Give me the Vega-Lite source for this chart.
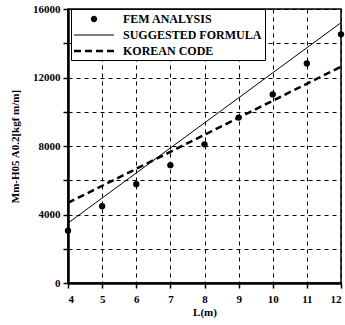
{
  "$schema": "https://vega.github.io/schema/vega-lite/v6.json",
  "width": 273,
  "height": 274,
  "autosize": "none",
  "padding": {"left": 68, "top": 9, "right": 4, "bottom": 42},
  "background": "white",
  "config": {
    "font": "Liberation Serif",
    "view": {"stroke": "black", "strokeWidth": 1.5},
    "axis": {
      "labelFont": "Liberation Serif",
      "labelFontWeight": "bold",
      "labelFontSize": 11,
      "labelColor": "black",
      "titleFont": "Liberation Serif",
      "titleFontWeight": "bold",
      "titleFontSize": 11,
      "titleColor": "black",
      "domainColor": "black",
      "domainWidth": 2.5,
      "tickColor": "black",
      "tickWidth": 1.5,
      "tickSize": 5,
      "gridColor": "black",
      "gridDash": [4, 4],
      "gridWidth": 1,
      "gridOpacity": 1
    }
  },
  "data": {
    "values": [
      {"L": 4, "M": 3050, "series": "FEM ANALYSIS"},
      {"L": 5, "M": 4480, "series": "FEM ANALYSIS"},
      {"L": 6, "M": 5770, "series": "FEM ANALYSIS"},
      {"L": 7, "M": 6880, "series": "FEM ANALYSIS"},
      {"L": 8, "M": 8100, "series": "FEM ANALYSIS"},
      {"L": 9, "M": 9660, "series": "FEM ANALYSIS"},
      {"L": 10, "M": 11010, "series": "FEM ANALYSIS"},
      {"L": 11, "M": 12820, "series": "FEM ANALYSIS"},
      {"L": 12, "M": 14520, "series": "FEM ANALYSIS"},
      {"L": 4, "M": 3500, "series": "SUGGESTED FORMULA"},
      {"L": 12, "M": 15200, "series": "SUGGESTED FORMULA"},
      {"L": 4, "M": 4680, "series": "KOREAN CODE"},
      {"L": 12, "M": 12630, "series": "KOREAN CODE"}
    ]
  },
  "encoding": {
    "x": {
      "field": "L",
      "type": "quantitative",
      "scale": {"domain": [4, 12], "nice": false},
      "axis": {"values": [4, 5, 6, 7, 8, 9, 10, 11, 12], "title": "L(m)", "labelPadding": 5, "titlePadding": 2, "grid": true}
    },
    "y": {
      "field": "M",
      "type": "quantitative",
      "scale": {"domain": [0, 16000], "nice": false},
      "axis": {
        "values": [0, 2000, 4000, 6000, 8000, 10000, 12000, 14000, 16000],
        "format": "d",
        "labelExpr": "datum.value % 4000 === 0 ? datum.label : ''",
        "title": "Mm-H05 A0.2[kgf m/m]",
        "titlePadding": 12,
        "labelPadding": 3,
        "grid": true
      }
    }
  },
  "layer": [
    {
      "transform": [{"filter": "datum.series === 'SUGGESTED FORMULA'"}],
      "mark": {"type": "line", "color": "black", "strokeWidth": 1}
    },
    {
      "transform": [{"filter": "datum.series === 'KOREAN CODE'"}],
      "mark": {"type": "line", "color": "black", "strokeWidth": 2.5, "strokeDash": [7, 4]}
    },
    {
      "transform": [{"filter": "datum.series === 'FEM ANALYSIS'"}],
      "mark": {"type": "circle", "color": "black", "size": 40, "opacity": 1}
    },
    {
      "transform": [{"filter": "datum.series === 'NONE'"}],
      "mark": {"type": "point", "filled": true, "color": "black", "size": 196, "opacity": 1, "strokeWidth": 0},
      "encoding": {
        "shape": {
          "field": "series",
          "type": "nominal",
          "scale": {
            "domain": ["FEM ANALYSIS", "SUGGESTED FORMULA", "KOREAN CODE"],
            "range": [
              "M1.4,0A0.457,0.457 0 1,0 2.314,0A0.457,0.457 0 1,0 1.4,0Z",
              "M-1,-0.07H4.714V0.07H-1Z",
              "M-1,-0.18H0V0.18H-1ZM0.571,-0.18H1.571V0.18H0.571ZM2.143,-0.18H3.143V0.18H2.143ZM3.714,-0.18H4.714V0.18H3.714Z"
            ]
          },
          "legend": {
            "title": null,
            "orient": "none",
            "legendX": 3,
            "legendY": 0,
            "padding": 3,
            "fillColor": "white",
            "strokeColor": "black",
            "labelFont": "Liberation Serif",
            "labelFontWeight": "bold",
            "labelFontSize": 12,
            "labelColor": "black",
            "rowPadding": 3,
            "symbolSize": 196,
            "symbolFillColor": "black",
            "symbolStrokeWidth": 0,
            "symbolOpacity": 1,
            "labelOffset": 35
          }
        }
      }
    }
  ]
}
